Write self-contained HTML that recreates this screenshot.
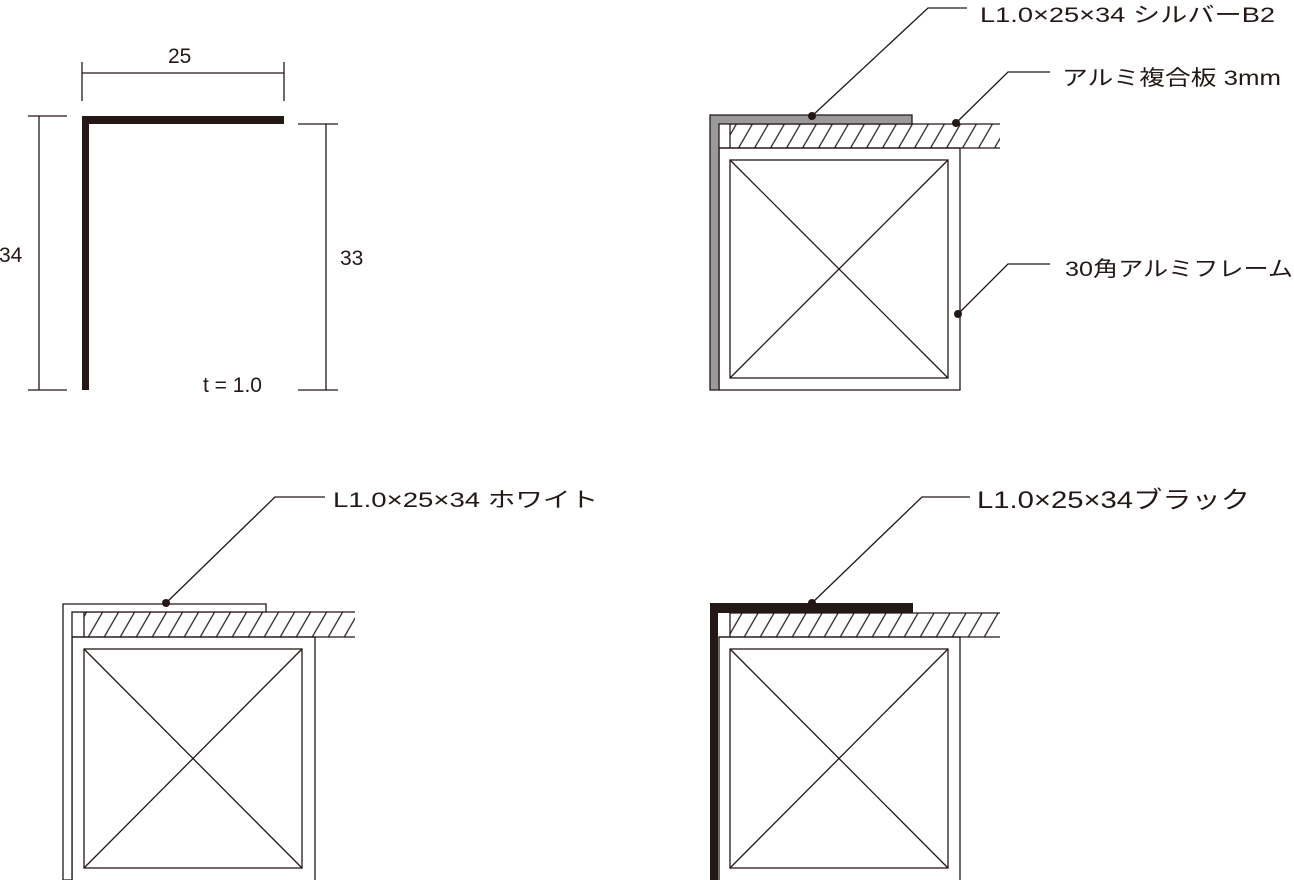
<!DOCTYPE html>
<html><head><meta charset="utf-8"><style>
html,body{margin:0;padding:0;background:#fff;}
svg{display:block;}
text{font-family:"Liberation Sans","Noto Sans CJK JP",sans-serif;fill:#231815;}
</style></head><body>
<svg width="1294" height="880" viewBox="0 0 1294 880" xmlns="http://www.w3.org/2000/svg">
<defs>
<pattern id="h" patternUnits="userSpaceOnUse" width="16" height="24" patternTransform="skewX(-30)">
<line x1="8" y1="-2" x2="8" y2="26" stroke="#231815" stroke-width="1.4"/>
</pattern>
</defs>
<g stroke="#231815" fill="none" stroke-width="1.3">
<line x1="82" y1="73" x2="284" y2="73"/>
<line x1="82" y1="62" x2="82" y2="101"/>
<line x1="284" y1="62" x2="284" y2="101"/>
<line x1="39" y1="116" x2="39" y2="390"/>
<line x1="28" y1="116" x2="67" y2="116"/>
<line x1="28" y1="390" x2="67" y2="390"/>
<line x1="326" y1="124" x2="326" y2="390"/>
<line x1="298" y1="124" x2="338" y2="124"/>
<line x1="298" y1="390" x2="338" y2="390"/>
</g>
<path d="M82 116 H284 V124 H89 V390 H82 Z" fill="#231815"/>
<text x="168" y="63" font-size="21">25</text>
<text x="-1" y="262" font-size="21">34</text>
<text x="340" y="265" font-size="21">33</text>
<text x="203" y="392" font-size="21">t = 1.0</text>

<g stroke="#231815" stroke-width="1.3">
<rect x="730" y="124" width="270" height="24" fill="url(#h)" stroke="none"/>
<line x1="730" y1="124" x2="1000" y2="124"/>
<line x1="719" y1="148" x2="1000" y2="148"/>
<line x1="730" y1="124" x2="730" y2="148"/>
<rect x="719" y="148" width="241" height="242" fill="none"/>
<rect x="730" y="160" width="218" height="218" fill="none"/>
<line x1="730" y1="160" x2="948" y2="378"/>
<line x1="948" y1="160" x2="730" y2="378"/>
<path d="M710 115 H912 V124 H719 V390 H710 Z" fill="#9a9a9a"/>
<polyline points="812,116 928,8 967,8" fill="none"/>
<polyline points="956,123 1008,72 1050,72" fill="none"/>
<polyline points="958,314 1008,264 1050,264" fill="none"/>
</g>
<g fill="#231815"><circle cx="812" cy="116" r="4"/><circle cx="956" cy="123" r="4"/><circle cx="958" cy="314" r="4"/></g>
<text x="980" y="22" font-size="21" textLength="295" lengthAdjust="spacingAndGlyphs">L1.0×25×34  シルバーB2</text>
<text x="1062" y="85" font-size="21" textLength="219" lengthAdjust="spacingAndGlyphs">アルミ複合板  3mm</text>
<text x="1065" y="276" font-size="21" textLength="228" lengthAdjust="spacingAndGlyphs">30角アルミフレーム</text>

<g stroke="#231815" stroke-width="1.3">
<rect x="84" y="612" width="271" height="25" fill="url(#h)" stroke="none"/>
<line x1="72" y1="612" x2="355" y2="612"/>
<line x1="72" y1="637" x2="355" y2="637"/>
<line x1="84" y1="612" x2="84" y2="637"/>
<rect x="72" y="637" width="243" height="250" fill="none"/>
<rect x="84" y="649" width="218" height="219" fill="none"/>
<line x1="84" y1="649" x2="302" y2="868"/>
<line x1="302" y1="649" x2="84" y2="868"/>
<path d="M63 604 H266 V612 H72 V880 H63 Z" fill="#fff"/>
<polyline points="166,603 275,497 325,497" fill="none"/>
</g>
<circle cx="166" cy="603" r="4" fill="#231815"/>
<text x="333" y="507" font-size="21" textLength="265" lengthAdjust="spacingAndGlyphs">L1.0×25×34  ホワイト</text>

<g stroke="#231815" stroke-width="1.3">
<rect x="730" y="613" width="270" height="24" fill="url(#h)" stroke="none"/>
<line x1="730" y1="613" x2="1000" y2="613"/>
<line x1="719" y1="637" x2="1000" y2="637"/>
<line x1="730" y1="613" x2="730" y2="637"/>
<rect x="719" y="637" width="241" height="250" fill="none"/>
<rect x="730" y="649" width="218" height="219" fill="none"/>
<line x1="730" y1="649" x2="948" y2="868"/>
<line x1="948" y1="649" x2="730" y2="868"/>
<polyline points="812,603 922,497 970,497" fill="none"/>
</g>
<path d="M710 603 H913 V613 H718 V880 H710 Z" fill="#231815"/>
<circle cx="812" cy="603" r="4" fill="#231815"/>
<text x="977" y="508" font-size="24" textLength="273" lengthAdjust="spacingAndGlyphs">L1.0×25×34ブラック</text>
</svg>
</body></html>
